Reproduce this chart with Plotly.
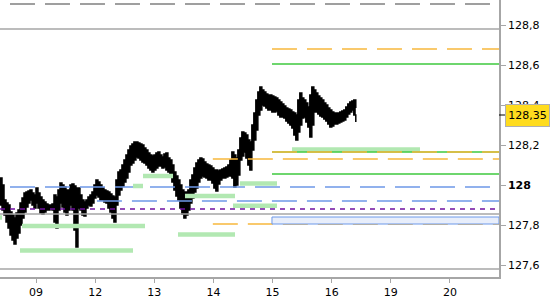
import plotly.graph_objects as go

# ---------------- data ----------------
# x axis: trading-day index (09 = 0)
day_labels = ["09", "12", "13", "14", "15", "16", "19", "20"]
day_ticks = [0, 1, 2, 3, 4, 5, 6, 7]
x_min, x_max = -0.609, 7.829
y_min, y_max = 127.54, 128.925

y_ticks = [127.6, 127.8, 128.0, 128.2, 128.4, 128.6, 128.8]
y_tick_labels = ["127,6", "127,8", "<b>128</b>", "128,2", "128,4", "128,6", "128,8"]

last_price = 128.35
last_price_label = "128,35"

# price bars (regular time grid), high / low
bar_t0 = -0.609
bar_dt = 0.0338
price_high = [
    128.035, 128.000, 127.925, 127.910, 127.900, 127.865, 127.850, 127.835, 127.860, 127.875,
    127.910, 127.935, 127.960, 127.965, 127.970, 127.975, 127.960, 127.950, 127.985, 127.960,
    127.940, 127.925, 127.915, 127.905, 127.900, 127.900, 127.905, 127.950, 127.940, 127.975,
    128.010, 128.000, 127.990, 127.975, 127.975, 128.000, 128.005, 127.995, 127.985, 127.985,
    127.950, 127.925, 127.915, 127.925, 127.940, 127.950, 127.965, 128.000, 128.025, 128.015,
    128.000, 127.985, 127.975, 127.970, 127.965, 127.955, 127.945, 127.940, 128.025, 128.065,
    128.075, 128.100, 128.125, 128.150, 128.175, 128.195, 128.205, 128.215, 128.215, 128.210,
    128.205, 128.200, 128.185, 128.175, 128.160, 128.150, 128.145, 128.150, 128.160, 128.165,
    128.150, 128.140, 128.155, 128.160, 128.135, 128.125, 128.100, 128.065, 128.045, 128.025,
    128.000, 127.975, 127.965, 127.965, 127.975, 128.025, 128.050, 128.085, 128.110, 128.125,
    128.135, 128.130, 128.115, 128.105, 128.100, 128.095, 128.085, 128.075, 128.075, 128.070,
    128.075, 128.080, 128.085, 128.090, 128.100, 128.125, 128.165, 128.150, 128.135, 128.175,
    128.235, 128.265, 128.260, 128.250, 128.225, 128.215, 128.300, 128.360, 128.425, 128.465,
    128.490, 128.475, 128.465, 128.455, 128.450, 128.450, 128.445, 128.440, 128.435, 128.425,
    128.415, 128.405, 128.395, 128.385, 128.380, 128.375, 128.365, 128.360, 128.350, 128.425,
    128.460, 128.435, 128.425, 128.410, 128.390, 128.450, 128.490, 128.475, 128.460, 128.445,
    128.435, 128.425, 128.410, 128.400, 128.385, 128.375, 128.365, 128.360, 128.360, 128.360,
    128.365, 128.370, 128.375, 128.390, 128.405, 128.415, 128.420, 128.425, 128.385,
]
price_low = [
    127.900, 127.875, 127.850, 127.815, 127.785, 127.750, 127.725, 127.705, 127.735, 127.760,
    127.800, 127.835, 127.865, 127.890, 127.910, 127.925, 127.900, 127.885, 127.910, 127.885,
    127.860, 127.855, 127.865, 127.875, 127.875, 127.880, 127.875, 127.815, 127.785, 127.875,
    127.910, 127.890, 127.865, 127.850, 127.875, 127.900, 127.875, 127.775, 127.690, 127.885,
    127.875, 127.850, 127.845, 127.885, 127.900, 127.895, 127.910, 127.935, 127.950, 127.940,
    127.925, 127.925, 127.915, 127.910, 127.885, 127.865, 127.835, 127.815, 127.900, 127.950,
    127.975, 127.995, 128.015, 128.035, 128.065, 128.100, 128.110, 128.125, 128.140, 128.135,
    128.125, 128.115, 128.110, 128.100, 128.085, 128.075, 128.065, 128.075, 128.085, 128.095,
    128.095, 128.085, 128.090, 128.075, 128.065, 128.045, 128.015, 127.975, 127.945, 127.925,
    127.885, 127.855, 127.835, 127.850, 127.875, 127.910, 127.935, 127.965, 127.985, 128.015,
    128.035, 128.045, 128.040, 128.035, 128.025, 128.025, 128.010, 127.985, 127.970, 128.005,
    128.025, 128.035, 128.035, 128.040, 128.045, 128.045, 128.035, 127.990, 128.000, 128.050,
    128.125, 128.145, 128.165, 128.135, 128.100, 128.075, 128.175, 128.225, 128.275, 128.350,
    128.375, 128.400, 128.395, 128.385, 128.375, 128.375, 128.365, 128.365, 128.370, 128.350,
    128.340, 128.340, 128.335, 128.320, 128.310, 128.300, 128.285, 128.250, 128.225, 128.265,
    128.300, 128.335, 128.340, 128.315, 128.290, 128.240, 128.300, 128.365, 128.365, 128.355,
    128.345, 128.340, 128.330, 128.320, 128.305, 128.290, 128.295, 128.305, 128.305, 128.310,
    128.315, 128.320, 128.325, 128.340, 128.355, 128.365, 128.375, 128.350, 128.315,
]
price_x = [bar_t0 + i * bar_dt for i in range(len(price_high))]

# reference levels
gray_solid_levels = [128.78, 127.855, 127.58]
gray_dash_level, gray_dash_start, gray_dash_end = 128.905, -0.44, 7.68
blue_dash_levels = [127.99, 127.92]
blue_dash_starts = [-0.44, 1.03]
purple_dash_level = 127.88
green_solid_levels = [128.605, 128.165, 128.055]
green_solid_starts = [3.99, 3.99, 3.99]
orange_dash_levels = [128.68, 128.165, 128.13, 127.805]
orange_dash_starts = [3.99, 3.99, 2.99, 2.99]
zone_low, zone_high, zone_start = 127.805, 127.84, 3.99

# light green volume-profile style bars
green_bar_levels = [128.045, 127.995, 127.945, 128.008, 127.896, 127.795,
                    127.6725, 127.7525, 127.8375, 128.1775, 127.8175]
green_bar_starts = [1.809, 1.640, 2.519, 3.449, 3.331, -0.237,
                    -0.271, 2.401, -0.609, 4.329, 4.312]
green_bar_ends = [2.317, 1.809, 3.365, 4.075, 4.075, 1.843,
                  1.640, 3.365, -0.575, 6.493, 6.442]

# ---------------- styles ----------------
FONT = "DejaVu Sans"
GRAY = "#a6a6a6"
GRAY_DASH = "#808080"
BLUE = "#6d98e8"
PURPLE = "#7010a0"
GREEN = "#3ec83e"
ORANGE = "#f8b83c"
LIGHT_GREEN = "#b2e8b2"

fig = go.Figure()

# price band
fig.add_trace(go.Scatter(x=price_x, y=price_low, mode="lines",
                         line=dict(color="black", width=1.5, shape="hv"),
                         hoverinfo="skip"))
fig.add_trace(go.Scatter(x=price_x, y=price_high, mode="lines", fill="tonexty",
                         fillcolor="black",
                         line=dict(color="black", width=1.5, shape="hv"),
                         hoverinfo="skip"))

# zone rectangle
fig.add_shape(type="rect", xref="x", yref="y", x0=zone_start, x1=x_max,
              y0=zone_low, y1=zone_high, fillcolor="#e8eefb",
              line=dict(color=BLUE, width=1), layer="above")


def hline(y, x0, x1, color, width=1.5, dash="solid"):
    fig.add_trace(go.Scatter(x=[x0, x1], y=[y, y], mode="lines",
                             line=dict(color=color, width=width, dash=dash),
                             hoverinfo="skip"))


for lv in gray_solid_levels:
    hline(lv, x_min, x_max, GRAY, 1.5)
hline(gray_dash_level, gray_dash_start, gray_dash_end, GRAY_DASH, 1.5, "25px,10px")
for lv, st in zip(blue_dash_levels, blue_dash_starts):
    hline(lv, st, x_max, BLUE, 1.5, "25px,10px")
hline(purple_dash_level, x_min, x_max, PURPLE, 1.5, "5px,5px")

# green bars
for lv, s, e in zip(green_bar_levels, green_bar_starts, green_bar_ends):
    hline(lv, s, e, LIGHT_GREEN, 4.5)

for lv, st in zip(green_solid_levels, green_solid_starts):
    hline(lv, st, x_max, GREEN, 1.5)
for lv, st in zip(orange_dash_levels, orange_dash_starts):
    hline(lv, st, x_max, ORANGE, 1.5, "25px,10px")

# last price marker
fig.add_shape(type="line", xref="paper", yref="y", x0=1, x1=1.012,
              y0=last_price, y1=last_price, line=dict(color="black", width=1))
fig.add_annotation(xref="paper", yref="y", x=1, y=last_price, xanchor="left",
                   yanchor="middle", xshift=6, text=last_price_label,
                   showarrow=False, font=dict(family=FONT, size=11, color="black"),
                   bgcolor="#ffdc1e", bordercolor="#b0b0b0", borderwidth=1,
                   borderpad=1, width=41, height=19)

fig.update_layout(
    width=550, height=300,
    margin=dict(l=0, r=51, t=0, b=23),
    paper_bgcolor="white", plot_bgcolor="white",
    showlegend=False,
    font=dict(family=FONT, size=11, color="black"),
    xaxis=dict(range=[x_min, x_max], tickvals=day_ticks, ticktext=day_labels,
               showgrid=False, zeroline=False, showline=True, linecolor=GRAY,
               linewidth=1.5, ticks="outside", ticklen=4, tickcolor=GRAY,
               tickfont=dict(family=FONT, size=11, color="black")),
    yaxis=dict(range=[y_min, y_max], side="right", tickvals=y_ticks,
               ticktext=y_tick_labels, showgrid=False, zeroline=False,
               showline=True, linecolor=GRAY, linewidth=1.5, ticks="outside",
               ticklen=5, tickcolor=GRAY,
               tickfont=dict(family=FONT, size=11, color="black")),
)

fig.write_html("out.html")
